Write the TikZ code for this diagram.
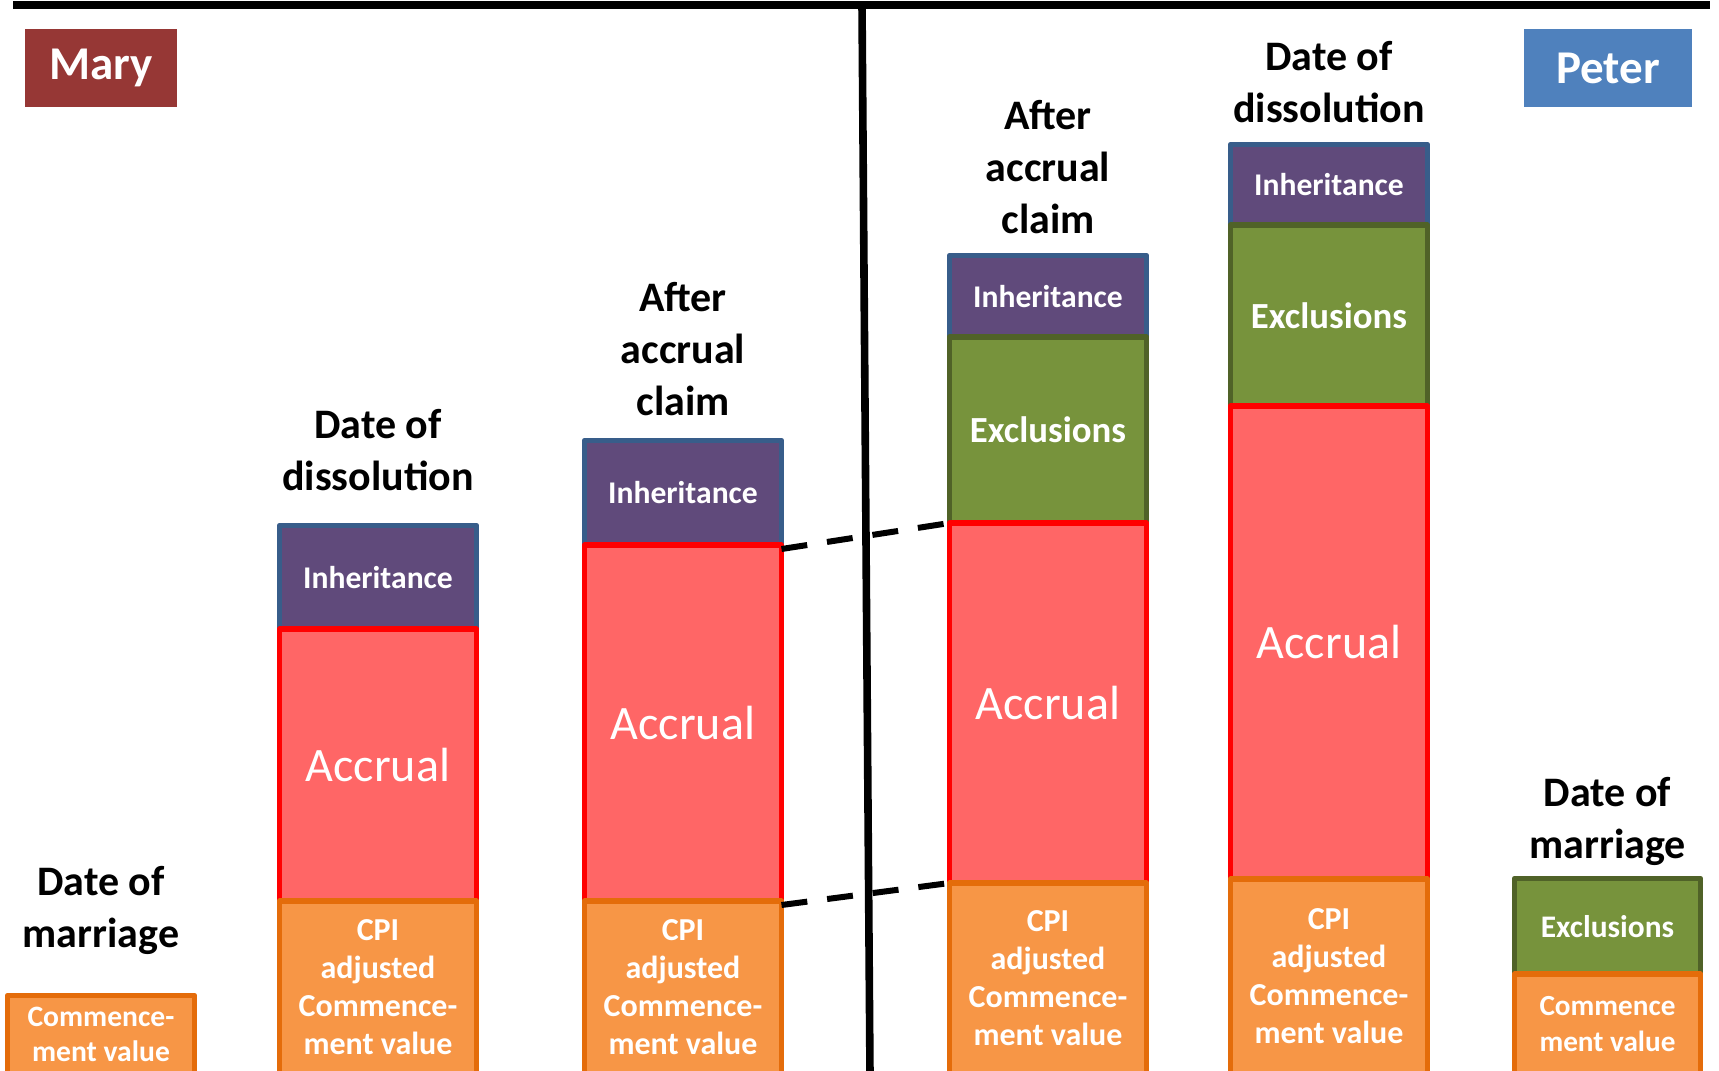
\documentclass[tikz,border=0pt]{standalone}
\usepackage{fontspec}
\setmainfont{Carlito}
\usetikzlibrary{positioning}
\definecolor{maryred}{RGB}{150,55,53}
\definecolor{peterblue}{RGB}{79,129,189}
\definecolor{inhpurple}{RGB}{96,74,123}
\definecolor{inhedge}{RGB}{56,93,138}
\definecolor{exclgreen}{RGB}{119,147,60}
\definecolor{excledge}{RGB}{80,98,40}
\definecolor{accrpink}{RGB}{255,102,102}
\definecolor{cpiorange}{RGB}{247,150,70}
\definecolor{cpiedge}{RGB}{228,108,10}

\begin{document}
\begin{tikzpicture}[x=0.5pt,y=-0.5pt,
  seg/.style={line width=2.8pt,line join=round,minimum width=98.5pt,inner sep=0pt,outer sep=0pt,align=center,text=white},
  inher/.style={seg,draw=inhedge,fill=inhpurple,font=\fontsize{15.8}{19}\selectfont\bfseries},
  excl/.style={seg,draw=excledge,fill=exclgreen,font=\fontsize{18.4}{22}\selectfont\bfseries},
  accr/.style={seg,draw=red,fill=accrpink,font=\fontsize{24}{28}\selectfont},
  cpi/.style={seg,draw=cpiedge,fill=cpiorange,font=\fontsize{16}{19}\selectfont\bfseries},
  heading/.style={inner sep=0pt,align=center,font=\fontsize{21}{26}\selectfont\bfseries},
  who/.style={inner sep=0pt,minimum height=39pt,text=white,font=\fontsize{23.5}{28}\selectfont\bfseries},
  dashline/.style={line width=3pt,dash pattern=on 13pt off 10pt}]
\useasboundingbox (0,0) rectangle (1719,1071);
% Mary
\node[who,fill=maryred,minimum width=76pt] (mary) at (101,68) {Mary};
\node[seg,draw=cpiedge,fill=cpiorange,minimum width=93.5pt,minimum height=39.25pt,anchor=north,font=\fontsize{14.8}{17.5}\selectfont\bfseries] (cmM) at (101,995.5) {Commence-\\ment value};
\node[heading,above=20.25pt of cmM] (tM) {Date of\\marriage};
\node[inher,minimum height=51.75pt,anchor=north] (inhA) at (378,525.5) {Inheritance};
\node[accr,minimum height=136pt,below=0pt of inhA] (accA) {Accrual};
\node[cpi,minimum height=86.5pt,below=0pt of accA] (cpiA) {CPI\\adjusted\\Commence-\\ment value};
\node[heading,above=17.25pt of inhA] (tA) {Date of\\dissolution};
\node[inher,minimum height=52.25pt,anchor=north] (inhB) at (683,440.5) {Inheritance};
\node[accr,minimum height=178pt,below=0pt of inhB] (accB) {Accrual};
\node[cpi,minimum height=86.5pt,below=0pt of accB] (cpiB) {CPI\\adjusted\\Commence-\\ment value};
\node[heading,above=12.25pt of inhB] (tB) {After\\accrual\\claim};
% Peter
\node[who,fill=peterblue,minimum width=84pt] (peter) at (1608,68) {Peter};
\node[inher,minimum height=40.75pt,anchor=north] (inhC) at (1048,255.5) {Inheritance};
\node[excl,minimum height=93pt,below=0pt of inhC] (exC) {Exclusions};
\node[accr,minimum height=180pt,below=0pt of exC] (accC) {Accrual};
\node[cpi,minimum height=95.5pt,below=0pt of accC] (cpiC) {CPI\\adjusted\\Commence-\\ment value};
\node[heading,above=10.75pt of inhC] (tC) {After\\accrual\\claim};
\node[inher,minimum height=40.25pt,anchor=north] (inhD) at (1329,144.5) {Inheritance};
\node[excl,minimum height=90.5pt,below=0pt of inhD] (exD) {Exclusions};
\node[accr,minimum height=236.5pt,below=0pt of exD] (accD) {Accrual};
\node[cpi,minimum height=97.5pt,below=0pt of accD] (cpiD) {CPI\\adjusted\\Commence-\\ment value};
\node[heading,above=10.75pt of inhD] (tD) {Date of\\dissolution};
\node[excl,minimum width=93pt,minimum height=47.75pt,anchor=north,font=\fontsize{15.7}{19}\selectfont\bfseries] (exE) at (1607.5,878.5) {Exclusions};
\node[seg,draw=cpiedge,fill=cpiorange,minimum width=93pt,minimum height=50pt,below=0pt of exE,font=\fontsize{14.6}{18}\selectfont\bfseries] (cmE) {Commence\\ment value};
\node[heading,above=6.25pt of exE] (tE) {Date of\\marriage};
% links and dividers
\foreach \a/\b in {accB/accC,cpiB/cpiC}{\draw[dashline] ([yshift=-2pt]\a.north east)--(\b.north west);}
\draw[line width=4pt] (13,5)--(1710,5);
\draw[line width=3.8pt] (862,5)--(870,1075);
\end{tikzpicture}
\end{document}
